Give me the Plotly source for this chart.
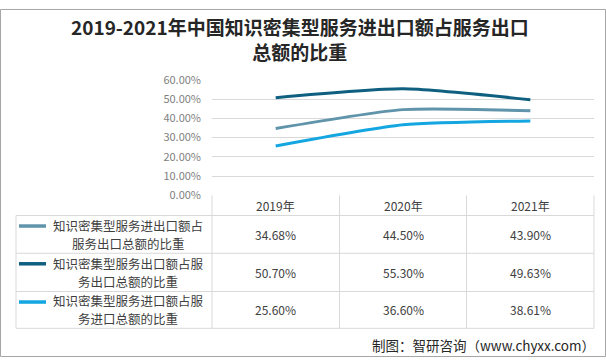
import plotly.graph_objects as go

W, H = 606, 364

years = ["2019年", "2020年", "2021年"]
series_names = [
    "知识密集型服务进出口额占服务出口总额的比重",
    "知识密集型服务出口额占服务出口总额的比重",
    "知识密集型服务进口额占服务进口总额的比重",
]
s1 = [0.3468, 0.4450, 0.4390]
s2 = [0.5070, 0.5530, 0.4963]
s3 = [0.2560, 0.3660, 0.3861]
series_values = [s1, s2, s3]
colors = ["#6094AB", "#0F5F80", "#14A6E0"]

title_text = "2019-2021年中国知识密集型服务进出口额占服务出口<br>总额的比重"
source_text = "制图：智研咨询（www.chyxx.com）"

FONT = "Noto Sans CJK SC, Microsoft YaHei, sans-serif"


def px(x):
    return x / W


def py(y):
    return 1 - y / H


# layout geometry (pixels)
plot_l, plot_r = 212, 594
plot_t, plot_b = 74, 195
col_edges = [212, 339.5, 466.5, 594]
table_l = 16
row_edges = [216, 255.5, 295.5, 334]
header_y = 206
grid_c = "#D9D9D9"

fig = go.Figure()
for name, vals, c in zip(series_names, series_values, colors):
    fig.add_trace(go.Scatter(
        x=years, y=vals, mode="lines", name=name,
        line=dict(color=c, width=3, shape="spline", smoothing=0.6),
        showlegend=False, hoverinfo="skip",
    ))

shapes = []
annotations = []

# table grid
for x in col_edges:
    shapes.append(dict(type="line", xref="paper", yref="paper",
                       x0=px(x), x1=px(x), y0=py(plot_b), y1=py(row_edges[-1]),
                       line=dict(color=grid_c, width=1)))
shapes.append(dict(type="line", xref="paper", yref="paper",
                   x0=px(table_l), x1=px(table_l), y0=py(row_edges[0]), y1=py(row_edges[-1]),
                   line=dict(color=grid_c, width=1)))
for y in row_edges:
    shapes.append(dict(type="line", xref="paper", yref="paper",
                       x0=px(table_l), x1=px(plot_r), y0=py(y), y1=py(y),
                       line=dict(color=grid_c, width=1)))

col_centers = [(col_edges[i] + col_edges[i + 1]) / 2 for i in range(3)]
for xc, yr in zip(col_centers, years):
    annotations.append(dict(xref="paper", yref="paper", x=px(xc), y=py(header_y),
                            text=yr, showarrow=False, xanchor="center", yanchor="middle",
                            font=dict(family=FONT, size=12, color="#404040")))


def wrap(s, n=12):
    return [s[i:i + n] for i in range(0, len(s), n)]


for i, (name, vals, c) in enumerate(zip(series_names, series_values, colors)):
    top, bot = row_edges[i], row_edges[i + 1]
    yc = (top + bot) / 2
    # legend key
    shapes.append(dict(type="line", xref="paper", yref="paper",
                       x0=px(19), x1=px(46), y0=py(top + 11), y1=py(top + 11),
                       line=dict(color=c, width=3.5)))
    parts = wrap(name)
    for k, part in enumerate(parts):
        ly = yc + (k - (len(parts) - 1) / 2) * 19
        annotations.append(dict(xref="paper", yref="paper", x=px(128), y=py(ly),
                                text=part, showarrow=False, xanchor="center",
                                yanchor="middle", align="center",
                                font=dict(family=FONT, size=12.5, color="#404040")))
    for xc, v in zip(col_centers, vals):
        annotations.append(dict(xref="paper", yref="paper", x=px(xc), y=py(yc),
                                text=f"{v * 100:.2f}%", showarrow=False,
                                xanchor="center", yanchor="middle",
                                font=dict(family=FONT, size=12, color="#404040")))

# title
annotations.append(dict(xref="paper", yref="paper", x=px(300), y=py(31),
                        text="<b>" + title_text + "</b>", showarrow=False,
                        xanchor="center", yanchor="middle", align="center",
                        font=dict(family=FONT, size=19, color="#262626")))
# source
annotations.append(dict(xref="paper", yref="paper", x=px(597), y=py(351),
                        text=source_text, showarrow=False,
                        xanchor="right", yanchor="middle",
                        font=dict(family=FONT, size=13.5, color="#262626")))

# outer frame
shapes.append(dict(type="rect", xref="paper", yref="paper",
                   x0=px(0.5), x1=px(W - 0.5), y0=py(H - 0.5), y1=py(0.5),
                   line=dict(color="#A6A6A6", width=1)))

fig.update_layout(
    width=W, height=H,
    margin=dict(l=0, r=0, t=0, b=0),
    paper_bgcolor="white", plot_bgcolor="white",
    shapes=shapes, annotations=annotations,
    xaxis=dict(domain=[px(plot_l), px(plot_r)], showticklabels=False,
               showgrid=False, zeroline=False, showline=False,
               range=[-0.5, 2.5], fixedrange=True),
    yaxis=dict(domain=[py(plot_b), py(plot_t)], range=[0, 0.6], dtick=0.1,
               tickformat=".2%", showgrid=True, gridcolor=grid_c, gridwidth=1,
               zeroline=False, showline=False, ticklabelstandoff=10,
               tickfont=dict(family=FONT, size=11, color="#7F7F7F"),
               fixedrange=True),
)

fig.write_html("out.html", config={"displayModeBar": False},
               post_script="document.body.style.margin='0';document.body.style.overflow='hidden';")
